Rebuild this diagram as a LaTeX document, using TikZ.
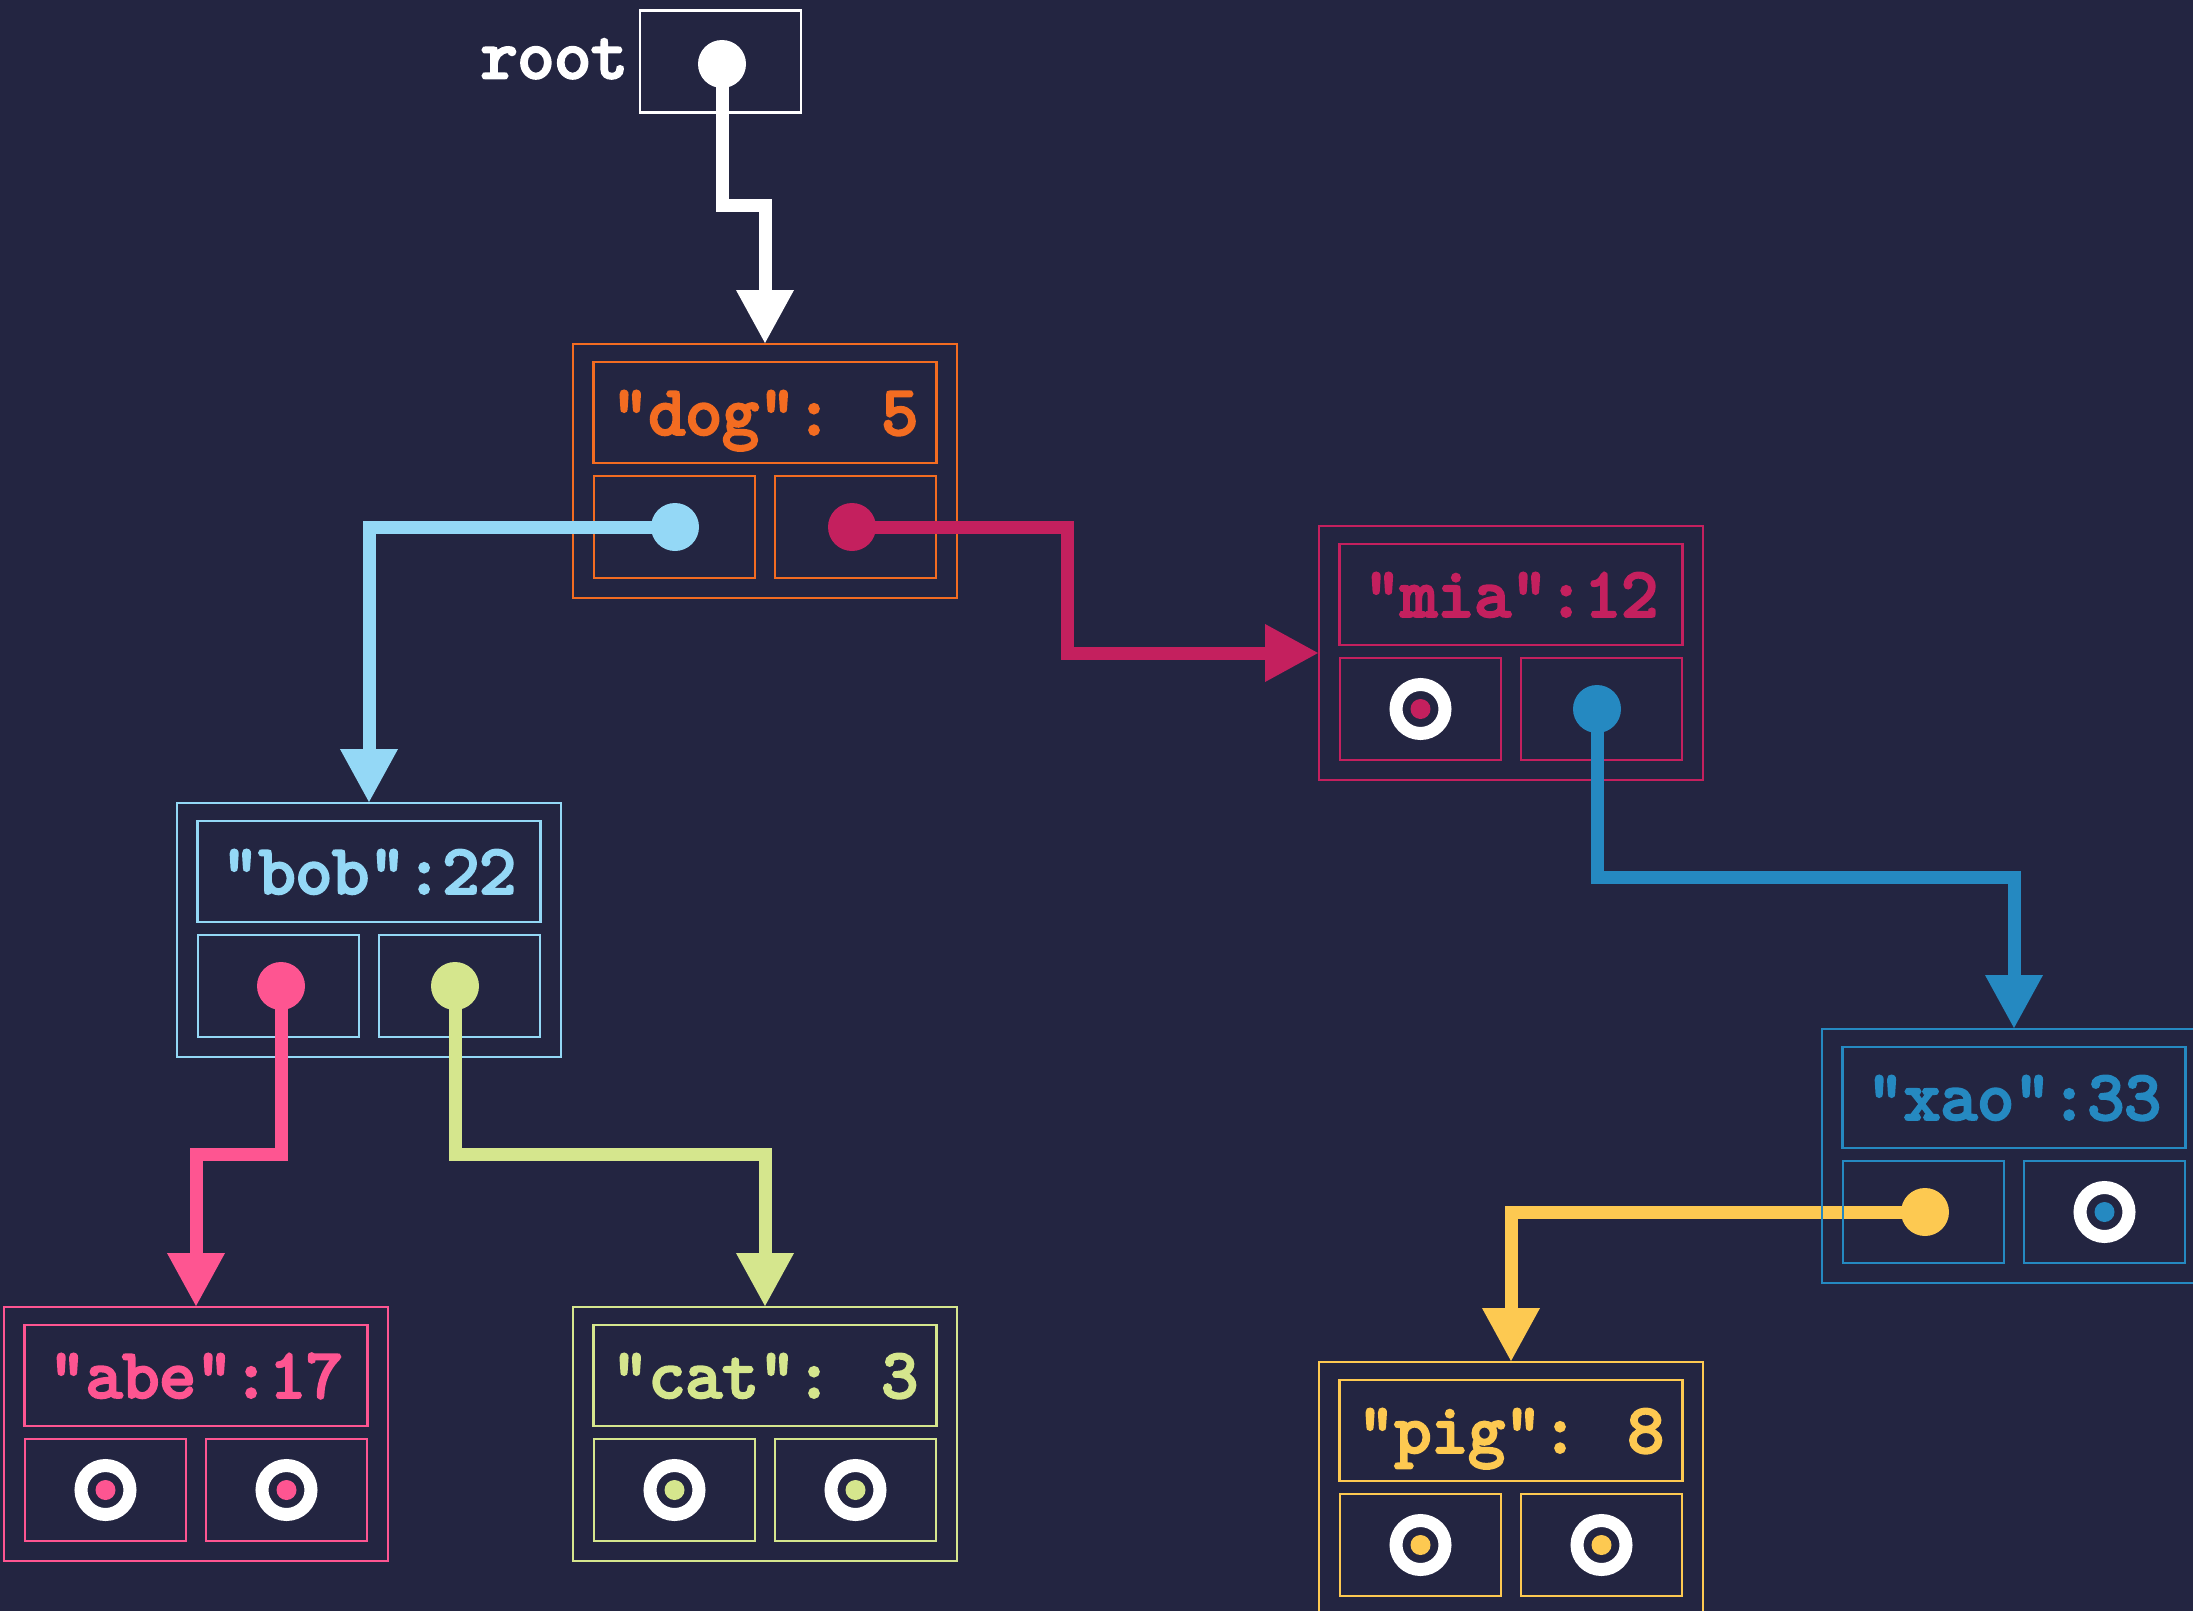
\documentclass[tikz,border=0pt]{standalone}
\usepackage{fontspec}
\usetikzlibrary{arrows.meta}
\newfontfamily\keyfont{lmmono10-regular.otf}[FakeBold=4]
\definecolor{bg}{HTML}{232541}
\definecolor{cdog}{HTML}{F36C21}
\definecolor{cbob}{HTML}{94D8F6}
\definecolor{cmia}{HTML}{C4205E}
\definecolor{cxao}{HTML}{2589C1}
\definecolor{cabe}{HTML}{FE5591}
\definecolor{ccat}{HTML}{D5E68D}
\definecolor{cpig}{HTML}{FDC951}
\tikzset{
  outerbox/.style={draw, line width=2.5pt, minimum width=384pt, minimum height=254pt, inner sep=0pt, outer sep=0pt},
  keybox/.style={draw, line width=2.5pt, minimum width=343pt, minimum height=101pt, inner sep=0pt, outer sep=0pt},
  ptrbox/.style={draw, line width=2.5pt, minimum width=161pt, minimum height=102pt, inner sep=0pt, outer sep=0pt},
  keytext/.style={font=\fontsize{70}{70}\selectfont\keyfont, anchor=base, inner sep=0pt},
  link/.style={line width=13pt, -{Triangle[length=54pt,width=54pt]}},
  ptrdot/.style={circle, fill, inner sep=0pt, minimum size=48pt},
  nullring/.style={circle, draw=white, line width=13pt, fill=bg, minimum size=49pt, inner sep=0pt},
  nulldot/.style={circle, fill, inner sep=0pt, minimum size=20pt},
}
\newcommand\drawkey[5]{%
  \node[outerbox, draw=#4] (#1) at (#2,#3) {};
  \node[keybox, draw=#4] (#1-key) at (#2,#3-58.5) {};
  \node[ptrbox, draw=#4] (#1-L) at (#2-90.5,#3+56) {};
  \node[ptrbox, draw=#4] (#1-R) at (#2+90.5,#3+56) {};
  \node[keytext, text=#4] (#1-txt) at (#2,#3-36.5) {#5};
}
\newcommand\nullptr[2]{%
  \node[nullring] (#1-ring) at (#1.center) {};
  \node[nulldot, fill=#2] (#1-null) at (#1.center) {};
}
\begin{document}
\begin{tikzpicture}[x=1pt, y=-1pt]
\useasboundingbox (0,0) rectangle (2193,1611);
\fill[bg] (0,0) rectangle (2193,1611);
\clip (0,0) rectangle (2193,1611);

% root
\node[ptrbox, draw=white] (root) at (720.5,61.5) {};
\node[keytext, text=white, anchor=base east] (roottxt) at (628,78) {root};

% nodes (xao drawn later, above its connector)
\drawkey{dog}{765}{471}{cdog}{"dog": 5}
\drawkey{bob}{369}{930}{cbob}{"bob":22}
\drawkey{mia}{1511}{653}{cmia}{"mia":12}
\drawkey{abe}{196}{1434}{cabe}{"abe":17}
\drawkey{cat}{765}{1434}{ccat}{"cat": 3}
\drawkey{pig}{1511}{1489}{cpig}{"pig": 8}

% pointer anchors
\coordinate (root-p) at (722,64);
\coordinate (dog-lp) at (675,527);
\coordinate (dog-rp) at (852,527);
\coordinate (bob-lp) at (281,986);
\coordinate (bob-rp) at (455,986);
\coordinate (mia-rp) at (1597,709);
\coordinate (xao-lp) at (1925,1212);
\coordinate (xao-top) at (2014,1029);

% connectors
\draw[link, white] (root-p) -- ++(0,141) -| (dog.north);
\draw[link, cbob] (dog-lp) -| (bob.north);
\draw[link, cmia] (dog-rp) -| ([xshift=-252pt]mia.west) -- (mia.west);
\draw[link, cabe] (bob-lp) |- ([yshift=153pt]abe.north) -- (abe.north);
\draw[link, ccat] (bob-rp) |- ([yshift=153pt]cat.north) -- (cat.north);
\draw[link, cxao] (mia-rp) |- ([yshift=152pt]xao-top) -- (xao-top);
\draw[link, cpig] (xao-lp) -| (pig.north);

\drawkey{xao}{2014}{1156}{cxao}{"xao":33}

% pointer dots
\node[ptrdot, fill=white] (root-dot) at (root-p) {};
\node[ptrdot, fill=cbob] (dog-ldot) at (dog-lp) {};
\node[ptrdot, fill=cmia] (dog-rdot) at (dog-rp) {};
\node[ptrdot, fill=cabe] (bob-ldot) at (bob-lp) {};
\node[ptrdot, fill=ccat] (bob-rdot) at (bob-rp) {};
\node[ptrdot, fill=cxao] (mia-rdot) at (mia-rp) {};
\node[ptrdot, fill=cpig] (xao-ldot) at (xao-lp) {};

% null pointers
\nullptr{mia-L}{cmia}
\nullptr{xao-R}{cxao}
\nullptr{abe-L}{cabe}
\nullptr{abe-R}{cabe}
\nullptr{cat-L}{ccat}
\nullptr{cat-R}{ccat}
\nullptr{pig-L}{cpig}
\nullptr{pig-R}{cpig}
\end{tikzpicture}
\end{document}
